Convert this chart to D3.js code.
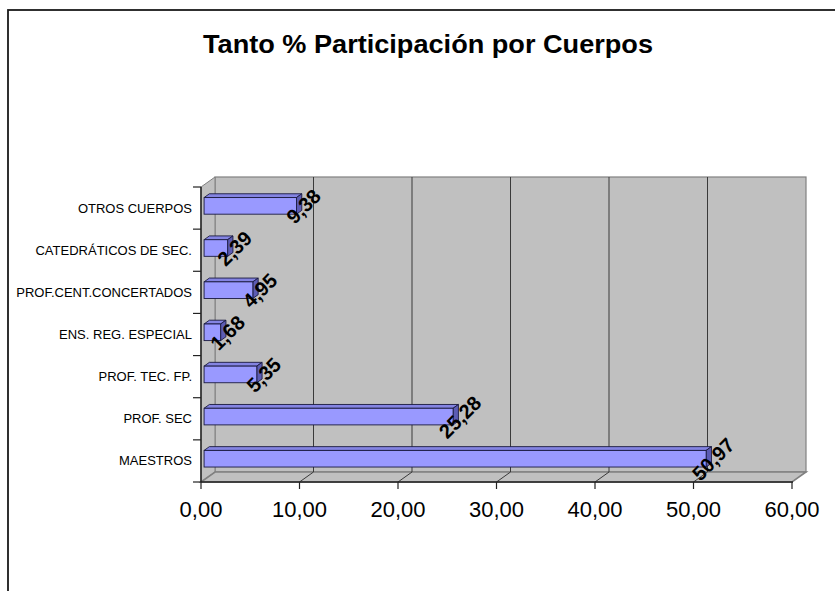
<!DOCTYPE html>
<html>
<head>
<meta charset="utf-8">
<script src="https://cdn.jsdelivr.net/npm/d3@7"></script>
<style>
  html, body { margin: 0; padding: 0; background: #fff; }
  svg { display: block; }
  text { font-family: "Liberation Sans", Arial, sans-serif; }
</style>
</head>
<body>
<svg id="chart" width="835" height="591"></svg>
<script>
// ---- data ----
const title = "Tanto % Participación por Cuerpos";
const categories = ["OTROS CUERPOS", "CATEDRÁTICOS DE SEC.", "PROF.CENT.CONCERTADOS",
  "ENS. REG. ESPECIAL", "PROF. TEC. FP.", "PROF. SEC", "MAESTROS"];
const values = [9.38, 2.39, 4.95, 1.68, 5.35, 25.28, 50.97];
const xTicks = [0, 10, 20, 30, 40, 50, 60];

// ---- layout ----
const svg = d3.select("#chart");
const front = { left: 201, right: 792, top: 187, bottom: 482 };
const depth = { x: 14, y: -10 };          // 3D depth vector of the plot box
const barFront = 0.22, barBack = 0.60;    // bar position inside the depth
const fo = { x: depth.x * barFront, y: depth.y * barFront };
const bo = { x: depth.x * barBack, y: depth.y * barBack };

const locale = d3.formatLocale({ decimal: ",", thousands: ".", grouping: [3], currency: ["", "€"] });
const fmt2 = locale.format(".2f");

const x = d3.scaleLinear().domain([0, 60]).range([front.left, front.right]);
const y = d3.scaleBand().domain(categories).range([front.top, front.bottom]).padding(0);
const barH = y.bandwidth() * 0.394;

// outer border
svg.append("rect").attr("x", 8).attr("y", 10).attr("width", 900).attr("height", 700)
  .attr("fill", "#fff").attr("stroke", "#1a1a1a").attr("stroke-width", 1.8);

// title
svg.append("text").attr("x", 428).attr("y", 53).attr("text-anchor", "middle")
  .attr("font-size", 26).attr("font-weight", "bold").attr("fill", "#000")
  .attr("textLength", 450).attr("lengthAdjust", "spacingAndGlyphs")
  .text(title);

const g = svg.append("g");
const X0 = x(0), X1 = x(60);
const pt = (a) => a.map(p => p.join(",")).join(" ");

// back wall
g.append("rect").attr("x", X0 + depth.x).attr("y", front.top + depth.y)
  .attr("width", X1 - X0).attr("height", front.bottom - front.top)
  .attr("fill", "#c0c0c0").attr("stroke", "#808080").attr("stroke-width", 1.2);
// left wall
g.append("polygon").attr("points", pt([[X0, front.top], [X0 + depth.x, front.top + depth.y],
  [X0 + depth.x, front.bottom + depth.y], [X0, front.bottom]]))
  .attr("fill", "#c0c0c0").attr("stroke", "#808080").attr("stroke-width", 1);
// floor
g.append("polygon").attr("points", pt([[X0, front.bottom], [X0 + depth.x, front.bottom + depth.y],
  [X1 + depth.x, front.bottom + depth.y], [X1, front.bottom]]))
  .attr("fill", "#c0c0c0").attr("stroke", "#808080").attr("stroke-width", 1.6);

// gridlines on back wall and floor
const inner = xTicks.filter(t => t > 0 && t < 60);
g.selectAll(".grid").data(inner).join("line")
  .attr("x1", d => x(d) + depth.x).attr("x2", d => x(d) + depth.x)
  .attr("y1", front.top + depth.y).attr("y2", front.bottom + depth.y)
  .attr("stroke", "#3a3a3a").attr("stroke-width", 1);
g.selectAll(".floorline").data(inner).join("line")
  .attr("x1", d => x(d)).attr("y1", front.bottom)
  .attr("x2", d => x(d) + depth.x).attr("y2", front.bottom + depth.y)
  .attr("stroke", "#3a3a3a").attr("stroke-width", 1);

// axes lines
g.append("line").attr("x1", X0).attr("x2", X1 + 1).attr("y1", front.bottom).attr("y2", front.bottom)
  .attr("stroke", "#222").attr("stroke-width", 1.5);
g.append("line").attr("x1", X0).attr("x2", X0).attr("y1", front.top).attr("y2", front.bottom)
  .attr("stroke", "#222").attr("stroke-width", 1.5);

// x ticks + labels
g.selectAll(".xt").data(xTicks).join("line")
  .attr("x1", d => x(d)).attr("x2", d => x(d)).attr("y1", front.bottom).attr("y2", front.bottom + 7)
  .attr("stroke", "#222").attr("stroke-width", 1.2);
g.selectAll(".xl").data(xTicks).join("text")
  .attr("x", d => x(d)).attr("y", 517).attr("text-anchor", "middle")
  .attr("font-size", 22).attr("fill", "#000").text(d => fmt2(d));

// y ticks (band boundaries) + labels
const bounds = categories.map(c => y(c)).concat([front.bottom]);
g.selectAll(".yt").data(bounds).join("line")
  .attr("x1", X0 - 8).attr("x2", X0).attr("y1", d => d).attr("y2", d => d)
  .attr("stroke", "#222").attr("stroke-width", 1.2);
g.selectAll(".yl").data(categories).join("text")
  .attr("x", 192).attr("y", d => y(d) + y.bandwidth() / 2).attr("dy", "0.35em")
  .attr("text-anchor", "end").attr("font-size", 13).attr("fill", "#000").text(d => d);

// bars
const bars = g.selectAll(".bar").data(categories.map((c, i) => ({ c, v: values[i] }))).join("g");
bars.each(function (d) {
  const s = d3.select(this);
  const yc = y(d.c) + y.bandwidth() / 2;
  const yt = yc - barH / 2, yb = yc + barH / 2;
  const xa = x(0), xb = x(d.v);
  // top face
  s.append("polygon").attr("points", pt([[xa + fo.x, yt + fo.y], [xb + fo.x, yt + fo.y],
    [xb + bo.x, yt + bo.y], [xa + bo.x, yt + bo.y]]))
    .attr("fill", "#8484e2").attr("stroke", "#1a1a40").attr("stroke-width", 0.9).attr("stroke-linejoin", "round");
  // end face
  s.append("polygon").attr("points", pt([[xb + fo.x, yt + fo.y], [xb + bo.x, yt + bo.y],
    [xb + bo.x, yb + bo.y], [xb + fo.x, yb + fo.y]]))
    .attr("fill", "#5c5cb4").attr("stroke", "#1a1a40").attr("stroke-width", 0.9).attr("stroke-linejoin", "round");
  // front face
  s.append("rect").attr("x", xa + fo.x).attr("y", yt + fo.y)
    .attr("width", xb - xa).attr("height", barH)
    .attr("fill", "#9999ff").attr("stroke", "#1a1a40").attr("stroke-width", 0.9);
  // data label
  s.append("text")
    .attr("transform", `translate(${xb + fo.x + 7},${yc + fo.y + 0.5}) rotate(-45)`)
    .attr("text-anchor", "middle").attr("dy", "0.35em")
    .attr("font-size", 20).attr("font-weight", "bold").attr("fill", "#000")
    .text(fmt2(d.v));
});
</script>
</body>
</html>
